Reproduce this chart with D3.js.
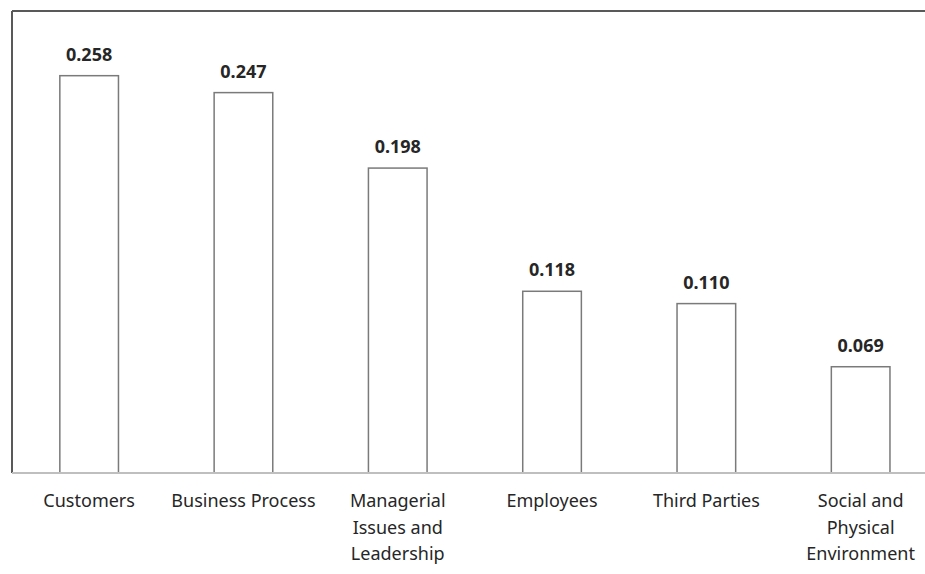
<!DOCTYPE html>
<meta charset="utf-8">
<style>
body { margin: 0; background: #fff; }
text { font-family: "Noto Sans", sans-serif; fill: #262626; }
.value { font-weight: bold; font-size: 18px; }
.cat { font-size: 18px; }
</style>
<svg width="925" height="574"></svg>
<script src="https://d3js.org/d3.v7.min.js"></script>
<script>

var categories = ["Customers", "Business Process", "Managerial Issues and Leadership",
                  "Employees", "Third Parties", "Social and Physical Environment"];
var labelLines = [["Customers"], ["Business Process"], ["Managerial", "Issues and", "Leadership"],
                  ["Employees"], ["Third Parties"], ["Social and", "Physical", "Environment"]];
var values = [0.258, 0.247, 0.198, 0.118, 0.110, 0.069];

var svg = d3.select("svg"),
    plotLeft = 12, plotTop = 11, plotBottom = 473;

var x = d3.scaleBand()
    .domain(categories)
    .range([plotLeft, plotLeft + 6 * 154.3])
    .paddingInner(0.62)
    .paddingOuter(0.31);

var y = d3.scaleLinear()
    .domain([0, 0.3])
    .range([plotBottom, plotTop]);

// frame: top and left dark, bottom axis light
svg.append("line")
    .attr("x1", plotLeft).attr("x2", 925)
    .attr("y1", plotTop).attr("y2", plotTop)
    .attr("stroke", "#595959").attr("stroke-width", 2);

svg.append("line")
    .attr("x1", plotLeft).attr("x2", plotLeft)
    .attr("y1", plotTop).attr("y2", plotBottom)
    .attr("stroke", "#595959").attr("stroke-width", 2);

svg.selectAll("rect.bar")
    .data(values)
    .enter().append("rect")
    .attr("class", "bar")
    .attr("x", function(d, i) { return x(categories[i]); })
    .attr("y", function(d) { return y(d); })
    .attr("width", x.bandwidth())
    .attr("height", function(d) { return plotBottom - y(d); })
    .attr("fill", "#fff")
    .attr("stroke", "#7a7a7a")
    .attr("stroke-width", 1.5);

svg.append("line")
    .attr("x1", plotLeft).attr("x2", 925)
    .attr("y1", plotBottom).attr("y2", plotBottom)
    .attr("stroke", "#bfbfbf").attr("stroke-width", 2);

svg.selectAll("text.value")
    .data(values)
    .enter().append("text")
    .attr("class", "value")
    .attr("x", function(d, i) { return x(categories[i]) + x.bandwidth() / 2; })
    .attr("y", function(d) { return y(d) - 15; })
    .attr("text-anchor", "middle")
    .text(function(d) { return d3.format(".3f")(d); });

var cat = svg.selectAll("text.cat")
    .data(labelLines)
    .enter().append("text")
    .attr("class", "cat")
    .attr("text-anchor", "middle")
    .attr("transform", function(d, i) {
      return "translate(" + (x(categories[i]) + x.bandwidth() / 2) + "," + 507 + ")";
    });

cat.selectAll("tspan")
    .data(function(d) { return d; })
    .enter().append("tspan")
    .attr("x", 0)
    .attr("y", function(d, j) { return j * 26.5; })
    .text(function(d) { return d; });

</script>
